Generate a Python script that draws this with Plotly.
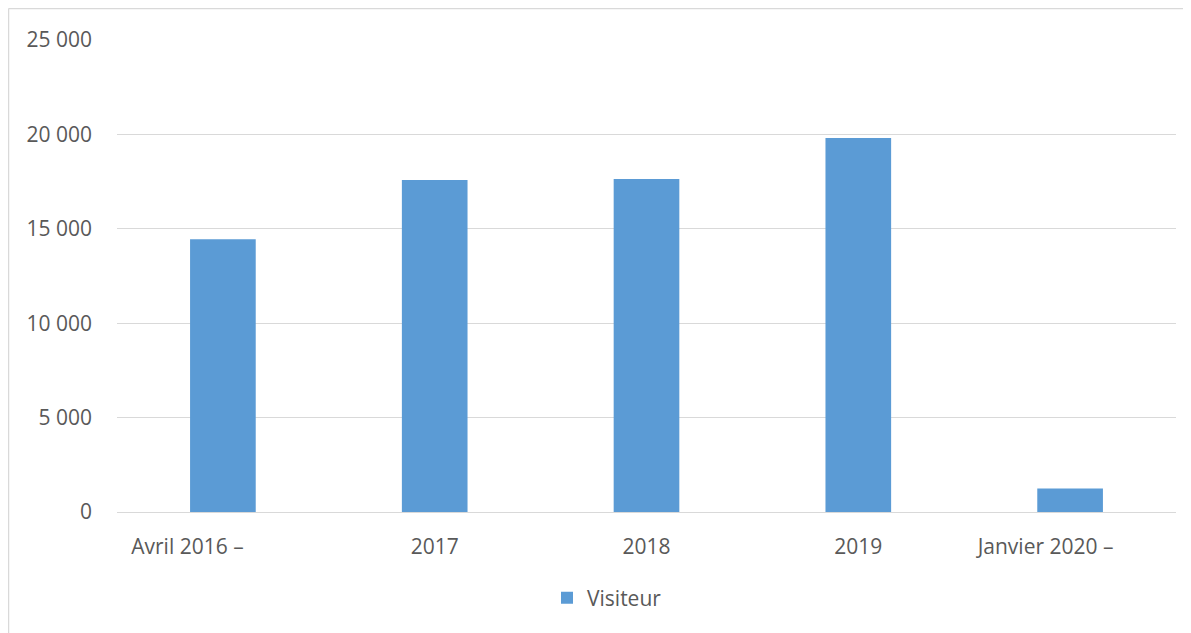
import plotly.graph_objects as go

categories = ["Avril 2016 –", "2017", "2018", "2019", "Janvier 2020 –"]
tick_labels = ["Avril 2016 –" + "\u00a0" * 13, "2017", "2018", "2019", "Janvier 2020 –" + "\u00a0" * 9]
visiteurs = [14450, 17580, 17640, 19810, 1240]
y_ticks = [0, 5000, 10000, 15000, 20000, 25000]
series_name = "Visiteur"

W, H = 1191, 633
OFF = 8  # page body margin in the browser
PL, PR, PT, PB = 117, 1176, 40, 512  # plot area in page pixels
L, R, T, B = PL - OFF, W - (PR - OFF), PT - OFF, H - (PB - OFF)
PW, PH = PR - PL, PB - PT


def px(xp):
    return (xp - PL) / PW


def py(yp):
    return (PB - yp) / PH


fig = go.Figure()
fig.add_trace(go.Bar(
    x=categories, y=visiteurs, name=series_name,
    marker=dict(color="#5b9bd5", line=dict(width=0)),
    showlegend=True,
))

fig.update_layout(
    width=W, height=H,
    margin=dict(l=L, r=R, t=T, b=B),
    paper_bgcolor="white", plot_bgcolor="white",
    separators=", ",
    bargap=0.69,
    font=dict(family="Open Sans", size=21, color="#595959"),
    showlegend=True,
    legend=dict(
        orientation="h", x=px(607), xanchor="center",
        y=py(598), yanchor="middle",
        font=dict(size=21, color="#595959"), itemwidth=30,
    ),
    xaxis=dict(
        type="category", tickvals=categories, ticktext=tick_labels,
        showgrid=False, showline=False, zeroline=False, ticks="",
        ticklabelstandoff=20, fixedrange=True,
    ),
    yaxis=dict(
        range=[0, 25000], tickvals=y_ticks, tickformat=",d",
        showgrid=True, gridcolor="#d9d9d9", gridwidth=1,
        zeroline=True, zerolinecolor="#d9d9d9", zerolinewidth=1,
        showline=False, ticks="", ticklabelstandoff=24,
    ),
    shapes=[
        dict(type="line", xref="paper", yref="paper",
             x0=px(8.5), x1=px(W + 10), y0=py(8.5), y1=py(8.5),
             line=dict(color="#d9d9d9", width=1.5)),
        dict(type="line", xref="paper", yref="paper",
             x0=px(8.5), x1=px(8.5), y0=py(8.5), y1=py(H + 10),
             line=dict(color="#d9d9d9", width=1.5)),
    ],
)

fig.write_html("out.html", config={"displayModeBar": False})
